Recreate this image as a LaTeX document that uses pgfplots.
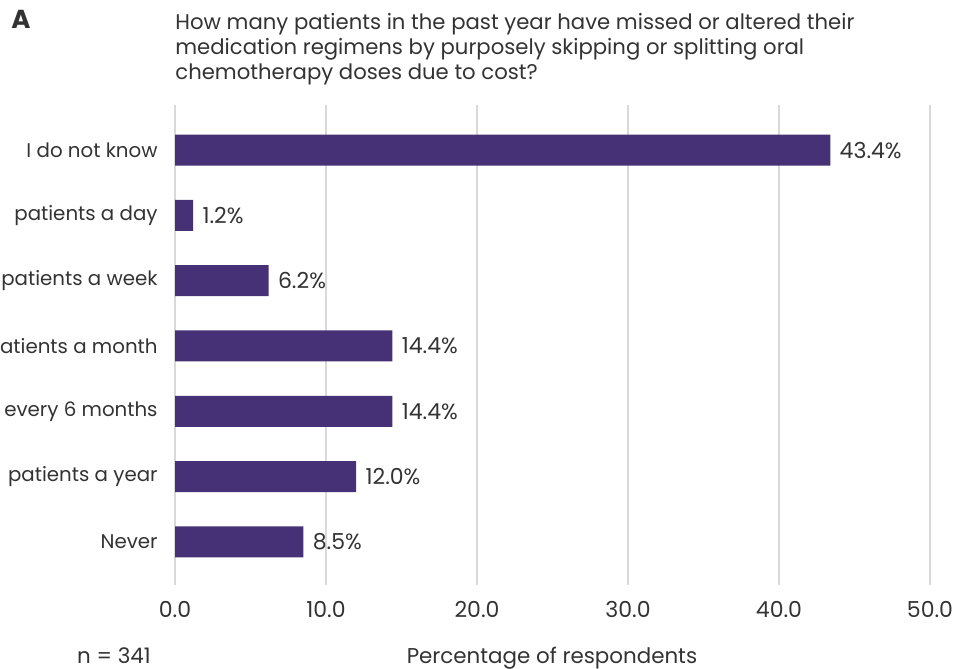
\documentclass[border=0pt]{standalone}
\usepackage{pgfplots}
\pgfplotsset{compat=1.18}
\usepackage{fontspec}
\setmainfont{Poppins}
\definecolor{barc}{HTML}{463076}
\definecolor{txt}{HTML}{333333}
\definecolor{gridc}{HTML}{D9D9D9}
\begin{document}
\begin{tikzpicture}
\useasboundingbox (0,0) rectangle (480pt,334.5pt);
\begin{axis}[
  at={(87.5pt,42pt)}, anchor=south west,
  scale only axis, width=377.5pt, height=240pt,
  xbar, bar width=15.5pt,
  xmin=0, xmax=50, ymin=-0.66, ymax=6.69,
  xtick={0,10,20,30,40,50},
  ytick={0,1,2,3,4,5,6},
  yticklabels={Never, patients a year, every 6 months, atients a month, patients a week, patients a day, I do not know},
  axis line style={draw=none},
  major tick length=0pt,
  xmajorgrids, grid style={gridc, line width=0.75pt},
  ymajorgrids=false,
  /pgf/number format/assume math mode=true,
  xticklabel={\pgfmathprintnumber[fixed,zerofill,precision=1]{\tick}},
  ticklabel style={font=\fontsize{11}{13}\selectfont, text=txt},
  xticklabel style={anchor=base, yshift=-16.5pt, inner sep=0pt},
  yticklabel style={anchor=east, xshift=-8.5pt, inner sep=0pt, font=\fontsize{9.9}{12}\selectfont},
  nodes near coords={\pgfmathprintnumber[fixed,zerofill,precision=1]{\pgfplotspointmeta}\%},
  point meta=explicit,
  nodes near coords style={font=\fontsize{11}{13}\selectfont, text=txt, anchor=west, inner sep=0pt, xshift=4.5pt},
  clip=false,
]
\addplot[fill=barc, draw=none] coordinates {
  (8.5,0) [8.5]
  (12.0,1) [12.0]
  (14.4,2) [14.4]
  (14.4,3) [14.4]
  (6.2,4) [6.2]
  (1.2,5) [1.2]
  (43.4,6) [43.4]
};
\end{axis}
\node[anchor=base west, inner sep=0pt, text=txt, font=\bfseries\fontsize{13}{15}\selectfont] at (5.5pt,320pt) {A};
\node[anchor=north west, inner sep=0pt, text=txt, align=left, font=\fontsize{10.6}{12.5}\selectfont] at (87.5pt,328pt) {How many patients in the past year have missed or altered their\\medication regimens by purposely skipping or splitting oral\\chemotherapy doses due to cost?};
\node[anchor=base, inner sep=0pt, text=txt, font=\fontsize{10.7}{13}\selectfont] at (57pt,2.5pt) {n = 341};
\node[anchor=base, inner sep=0pt, text=txt, font=\fontsize{10.7}{13}\selectfont] at (276pt,2.5pt) {Percentage of respondents};
\end{tikzpicture}
\end{document}
